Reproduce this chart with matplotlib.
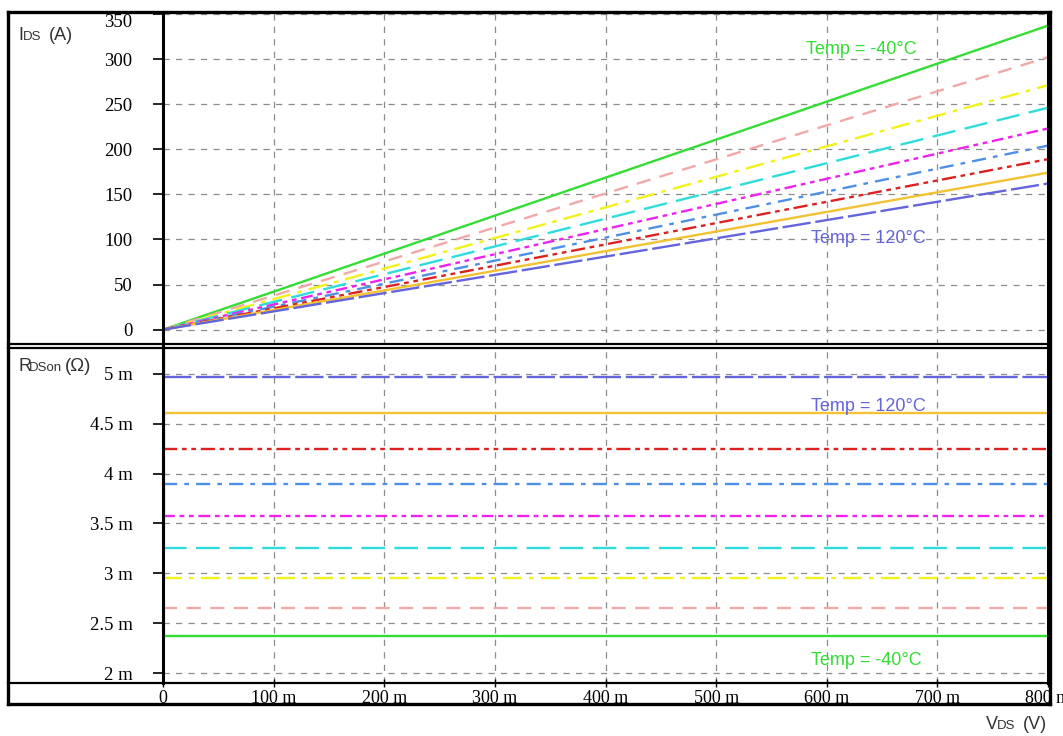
import matplotlib.pyplot as plt
from matplotlib.lines import Line2D

# sweep of drain voltage (V) and one curve per temperature
vds = [0.0, 0.8]
temps = [-40, -20, 0, 20, 40, 60, 80, 100, 120]
ids_end = [337, 302, 271, 246, 223, 204, 189, 174, 162]          # A at VDS = 800 mV
rdson = [2.37e-3, 2.65e-3, 2.95e-3, 3.25e-3, 3.58e-3, 3.90e-3, 4.25e-3, 4.61e-3, 4.97e-3]

colors = ['#33dd33', '#f2a8a8', '#f2f21a', '#2fdcdc', '#ee22ee', '#4f90e6', '#dd2020', '#f2c232', '#6464dc']
styles = ['-', (0, (6, 4)), (0, (8, 3, 2, 3)), (0, (10, 4)), (0, (5, 2, 2, 2, 2, 2)),
          (0, (6, 3, 2, 3)), (0, (6, 2, 2, 2, 2, 2)), '-', (0, (12, 2))]

xticks = [0, 0.1, 0.2, 0.3, 0.4, 0.5, 0.6, 0.7, 0.8]
xticklabels = ['0', '100 m', '200 m', '300 m', '400 m', '500 m', '600 m', '700 m', '800 m']
ids_ticks = [0, 50, 100, 150, 200, 250, 300, 350]
r_ticks = [2e-3, 2.5e-3, 3e-3, 3.5e-3, 4e-3, 4.5e-3, 5e-3]
r_ticklabels = ['2 m', '2.5 m', '3 m', '3.5 m', '4 m', '4.5 m', '5 m']

W, H = 1063, 736
fig = plt.figure(figsize=(W / 100, H / 100), dpi=100)
fig.patch.set_facecolor('white')


def box(x0, y0, x1, y1):
    # pixel box (from top-left) -> figure fraction rect
    return [x0 / W, 1 - y1 / H, (x1 - x0) / W, (y1 - y0) / H]


ax1 = fig.add_axes(box(163, 13, 1048, 345))
ax2 = fig.add_axes(box(163, 349, 1048, 683))

serif = 'Liberation Serif'
sans = 'Liberation Sans'

for ax in (ax1, ax2):
    ax.set_xlim(0, 0.8)
    ax.set_xticks(xticks)
    ax.grid(True, color='#8c8c8c', linestyle=(0, (5, 5)), linewidth=0.9)
    ax.tick_params(axis='y', direction='out', length=7, width=1.2, pad=15, labelsize=13.5)
    ax.tick_params(axis='x', direction='inout', length=6, width=1, labelsize=13)
    for side in ('left', 'right'):
        ax.spines[side].set_linewidth(2.2)
    ax.spines['top'].set_visible(False)
    ax.spines['bottom'].set_visible(False)

# current vs voltage
for i in range(len(temps)):
    ax1.plot(vds, [0, ids_end[i]], color=colors[i], linestyle=styles[i], linewidth=1.7)
ax1.set_ylim(-17, 351)
ax1.set_yticks(ids_ticks)
ax1.set_yticklabels([str(t) for t in ids_ticks], fontfamily=serif)
ax1.get_yticklabels()[-1].set_verticalalignment('top')
ax1.tick_params(axis='x', labelbottom=False, length=0)

# on-resistance vs voltage
for i in range(len(temps)):
    ax2.plot(vds, [rdson[i], rdson[i]], color=colors[i], linestyle=styles[i], linewidth=1.7)
    upper = rdson[i + 1] if i + 1 < len(temps) else 5.25e-3
    ax2.plot([0.0007, 0.0007], [rdson[i], upper], color=colors[i], linewidth=1.6)
ax2.set_ylim(1.9e-3, 5.25e-3)
ax2.set_yticks(r_ticks)
ax2.set_yticklabels(r_ticklabels, fontfamily=serif)
ax2.set_xticklabels(xticklabels, fontfamily=serif)
ax2.tick_params(axis='x', pad=2)

ax1.text(0.581, 311, 'Temp = -40°C', color=colors[0], fontsize=13, fontfamily=sans, va='center')
ax1.text(0.586, 101, 'Temp = 120°C', color=colors[-1], fontsize=13, fontfamily=sans, va='center')
ax2.text(0.586, 4.67e-3, 'Temp = 120°C', color=colors[-1], fontsize=13, fontfamily=sans, va='center')
ax2.text(0.586, 2.13e-3, 'Temp = -40°C', color=colors[0], fontsize=13, fontfamily=sans, va='center')

# outer frame and panel separators
frame_lines = [
    ([8, 1050], [12, 12], 2.4),
    ([8, 1050], [704, 704], 2.4),
    ([8, 8], [12, 704], 2.4),
    ([1050, 1050], [12, 704], 2.4),
    ([8, 1050], [344, 344], 1.6),
    ([8, 1050], [348, 348], 1.6),
    ([8, 1050], [683, 683], 1.6),
]
for xs, ys, lw in frame_lines:
    fig.add_artist(Line2D([x / W for x in xs], [1 - y / H for y in ys],
                          color='black', linewidth=lw, transform=fig.transFigure))


def label(x, y, parts):
    # axis title built from big / small pieces, placed left to right in pixels
    for text, size, dx in parts:
        fig.text((x + dx) / W, 1 - y / H, text, fontsize=size, fontfamily=sans,
                 color='#333333', va='baseline', ha='left')


label(18, 40, [('I', 13, 0), ('DS', 9.5, 5), ('(A)', 13, 31)])
label(18, 371, [('R', 13, 0), ('DSon', 9.5, 11), ('(Ω)', 13.5, 47)])
label(986, 729, [('V', 13, 0), ('DS', 9.5, 11), ('(V)', 13, 37)])

fig.savefig('out.png', dpi=100, facecolor='white')
